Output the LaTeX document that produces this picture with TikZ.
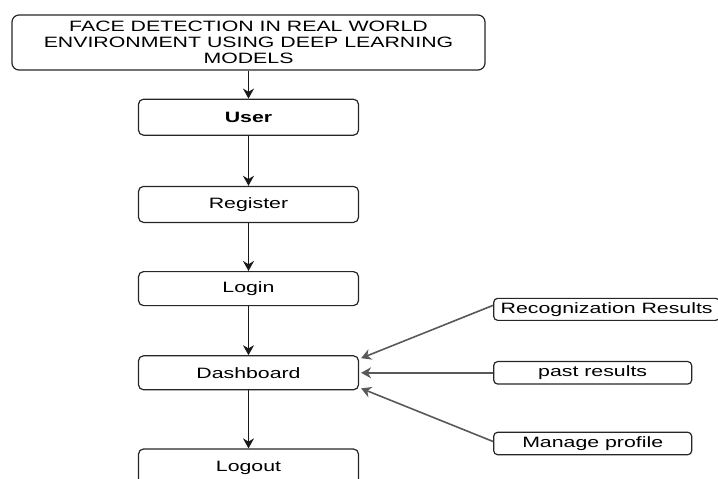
\documentclass[tikz,border=0pt]{standalone}
\usepackage{fontspec}
\setmainfont[FakeStretch=1.42]{Liberation Sans}
\usetikzlibrary{positioning,arrows.meta}

\tikzset{
  stagebox/.style={draw=black!85,rounded corners=5pt,line width=1.2pt,minimum width=220pt,inner sep=0pt},
  sidebox/.style={draw=black!85,rounded corners=4pt,line width=1.2pt,minimum height=22.5pt,inner sep=0pt},
  flow/.style={-{Stealth[length=10pt,width=11pt]},line width=1.8pt,black!90},
  feed/.style={-{Stealth[length=10pt,width=11pt]},line width=1.6pt,black!65}
}

\begin{document}
\begin{tikzpicture}[x=1pt,y=-1pt,font=\fontsize{15}{16}\selectfont]
\useasboundingbox (0,0) rectangle (718,479);
\node[stagebox,minimum width=473pt,minimum height=55pt,rounded corners=7pt,align=center] (title) at (248.5,42.5)
  {FACE DETECTION IN REAL WORLD\\ENVIRONMENT USING DEEP LEARNING\\MODELS};
\node[stagebox,minimum height=36pt,below=28pt of title.south,anchor=north,font=\fontsize{15}{16}\selectfont\bfseries] (user) {User};
\node[stagebox,minimum height=36pt,below=50pt of user] (reg) {Register};
\node[stagebox,minimum height=34pt,below=48pt of reg] (login) {Login};
\node[stagebox,minimum height=34pt,below=49pt of login] (dash) {Dashboard};
\node[stagebox,minimum height=37pt,below=58pt of dash] (logout) {Logout};
% what the dashboard shows
\node[sidebox,minimum width=198pt,right=134pt of dash] (past) {past results};
\node[sidebox,minimum width=226pt,minimum height=22pt,above=40pt of past.north west,anchor=south west] (rec) {Recognization Results};
\node[sidebox,minimum width=198pt,below=47pt of past.south west,anchor=north west] (manage) {Manage profile};
\draw[flow] (title) -- (user);
\draw[flow] (user) -- (reg);
\draw[flow] (reg) -- (login);
\draw[flow] (login) -- (dash);
\draw[flow] (dash) -- (logout);
\draw[feed] ([yshift=4pt]rec.west) -- ([shift={(2pt,-3pt)}]dash.north east);
\draw[feed] (past.west) -- ([xshift=2pt]dash.east);
\draw[feed] ([yshift=2pt]manage.west) -- ([shift={(2pt,2pt)}]dash.south east);
\end{tikzpicture}
\end{document}
